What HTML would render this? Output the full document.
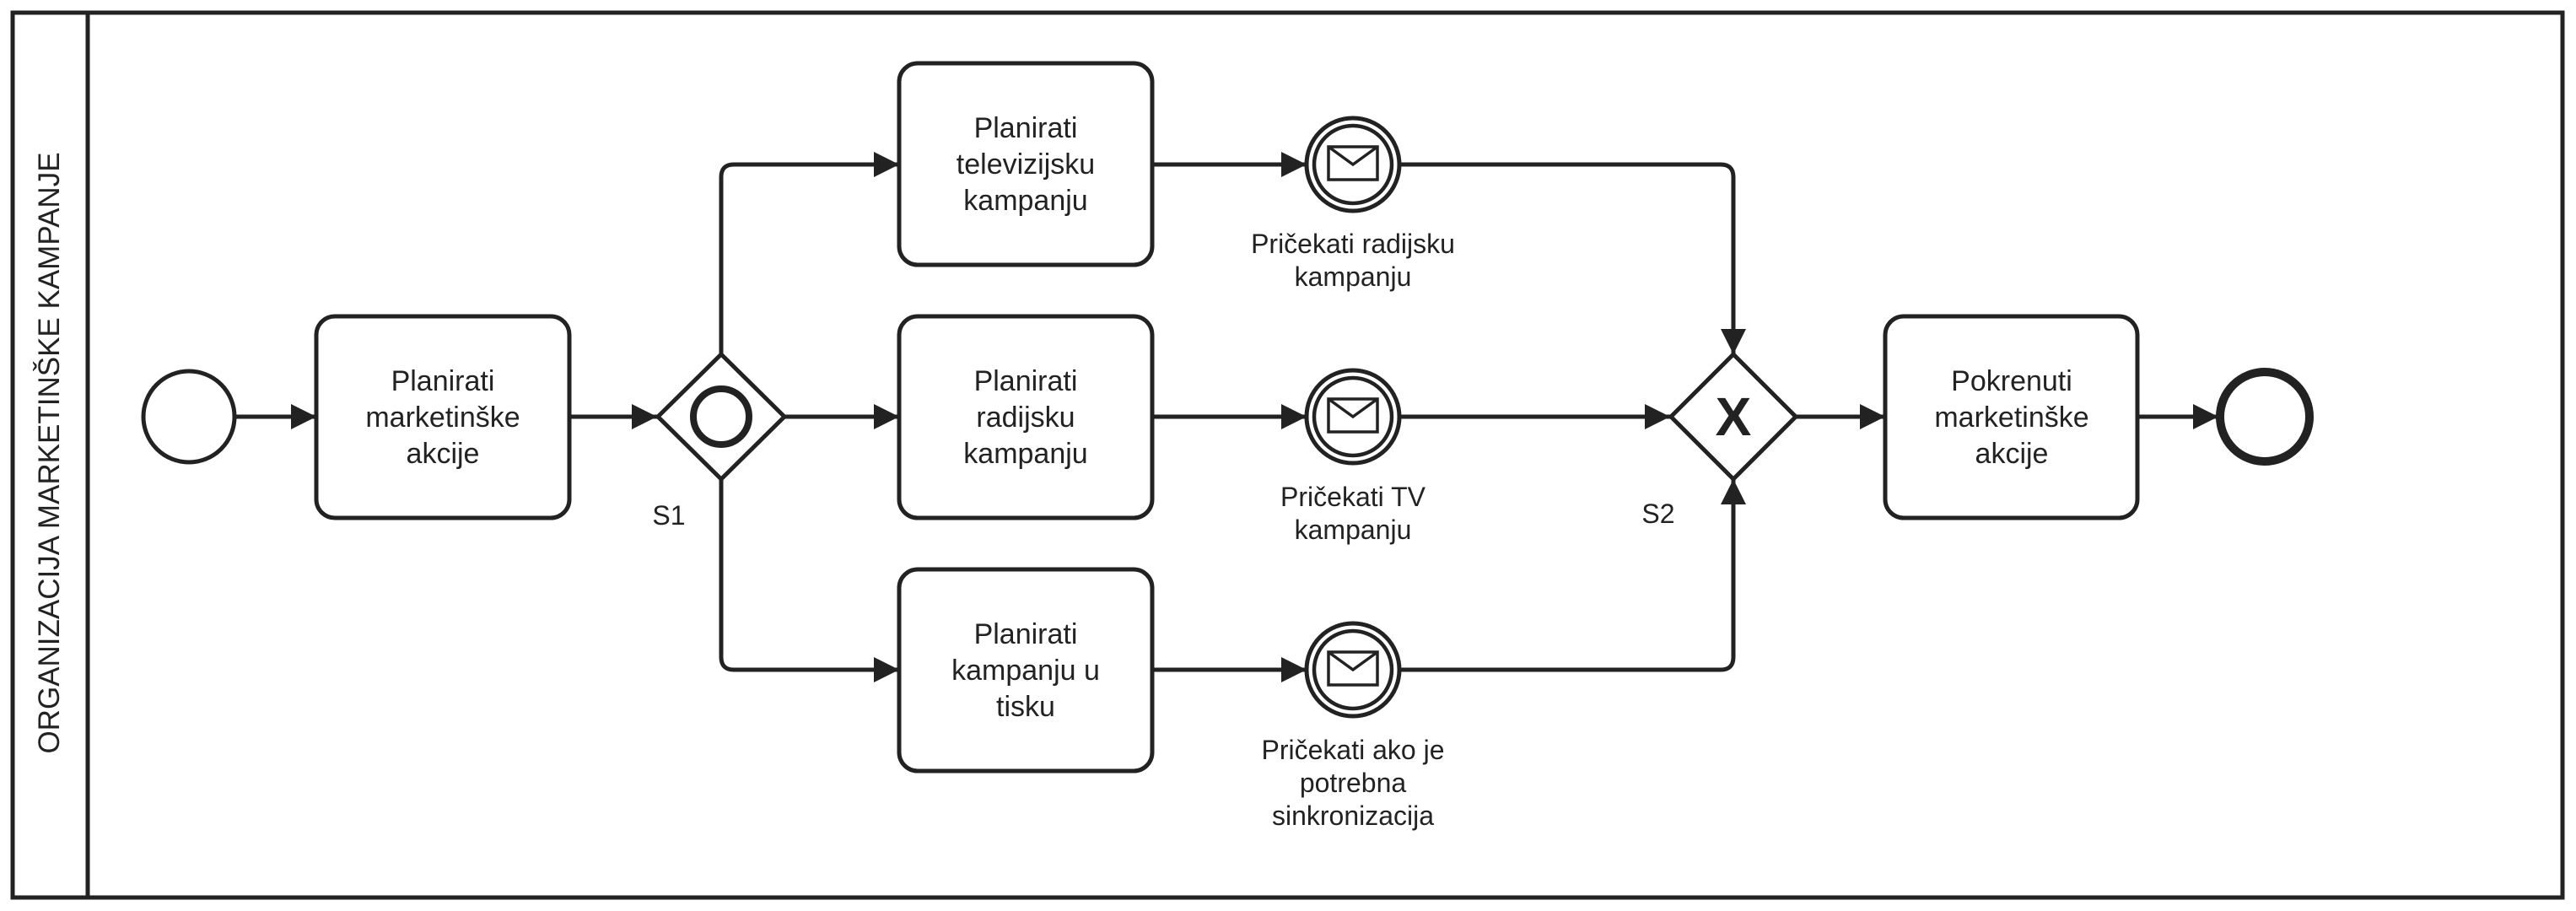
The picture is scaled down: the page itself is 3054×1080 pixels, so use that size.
<!DOCTYPE html>
<html><head><meta charset="utf-8"><style>
html,body{margin:0;padding:0;background:#fff;width:3054px;height:1080px;overflow:hidden}
text{font-family:"Liberation Sans",Arial,sans-serif;fill:#222}
</style></head><body>
<svg width="3054" height="1080" viewBox="0 0 3054 1080" xmlns="http://www.w3.org/2000/svg">
<defs>
<marker id="a" markerWidth="32" markerHeight="32" refX="30" refY="15" orient="auto" markerUnits="userSpaceOnUse">
<path d="M0,0 L30,15 L0,30 Z" fill="#222"/>
</marker>
<g id="msg">
<circle r="55" fill="#fff" stroke="#222" stroke-width="5"/>
<circle r="46" fill="none" stroke="#222" stroke-width="4.5"/>
<rect x="-29" y="-21" width="58" height="39" fill="#fff" stroke="#222" stroke-width="3.5"/>
<path d="M-29,-21 L0,0 L29,-21" fill="none" stroke="#222" stroke-width="3.5"/>
</g>
</defs>
<g fill="none" stroke="#222" stroke-width="5">
<rect x="15" y="15" width="3023" height="1049"/>
<line x1="104" y1="15" x2="104" y2="1064"/>
<line x1="279" y1="494" x2="375" y2="494" marker-end="url(#a)"/>
<line x1="675" y1="494" x2="779" y2="494" marker-end="url(#a)"/>
<line x1="930" y1="494" x2="1066" y2="494" marker-end="url(#a)"/>
<path d="M855,420 V210 Q855,195 870,195 H1066" marker-end="url(#a)"/>
<path d="M855,568 V779 Q855,794 870,794 H1066" marker-end="url(#a)"/>
<line x1="1366" y1="195" x2="1549" y2="195" marker-end="url(#a)"/>
<line x1="1366" y1="494" x2="1549" y2="494" marker-end="url(#a)"/>
<line x1="1366" y1="794" x2="1549" y2="794" marker-end="url(#a)"/>
<path d="M1659,195 H2040 Q2055,195 2055,210 V420" marker-end="url(#a)"/>
<line x1="1659" y1="494" x2="1980" y2="494" marker-end="url(#a)"/>
<path d="M1659,794 H2040 Q2055,794 2055,779 V568" marker-end="url(#a)"/>
<line x1="2129" y1="494" x2="2235" y2="494" marker-end="url(#a)"/>
<line x1="2534" y1="494" x2="2630" y2="494" marker-end="url(#a)"/>
</g>
<circle cx="224" cy="494" r="54" fill="#fff" stroke="#222" stroke-width="5"/>
<g fill="#fff" stroke="#222" stroke-width="5">
<rect x="375" y="375" width="300" height="239" rx="22"/>
<rect x="1066" y="75" width="300" height="239" rx="22"/>
<rect x="1066" y="375" width="300" height="239" rx="22"/>
<rect x="1066" y="675" width="300" height="239" rx="22"/>
<rect x="2235" y="375" width="299" height="239" rx="22"/>
<path d="M855,420 L930,494 L855,568 L780,494 Z"/>
<path d="M2055,420 L2129,494 L2055,568 L1981,494 Z"/>
</g>
<circle cx="855" cy="494" r="33" fill="none" stroke="#222" stroke-width="8"/>
<text x="2055" y="516" font-size="64" font-weight="bold" text-anchor="middle" style="fill:#222">X</text>
<circle cx="2685" cy="494" r="53" fill="#fff" stroke="#222" stroke-width="10"/>
<use href="#msg" x="1604" y="195"/>
<use href="#msg" x="1604" y="494"/>
<use href="#msg" x="1604" y="794"/>
<g font-size="34" text-anchor="middle">
<text x="525" y="463">Planirati</text><text x="525" y="506">marketinške</text><text x="525" y="549">akcije</text>
<text x="1216" y="163">Planirati</text><text x="1216" y="206">televizijsku</text><text x="1216" y="249">kampanju</text>
<text x="1216" y="463">Planirati</text><text x="1216" y="506">radijsku</text><text x="1216" y="549">kampanju</text>
<text x="1216" y="763">Planirati</text><text x="1216" y="806">kampanju u</text><text x="1216" y="849">tisku</text>
<text x="2385" y="463">Pokrenuti</text><text x="2385" y="506">marketinške</text><text x="2385" y="549">akcije</text>
</g>
<g font-size="32" text-anchor="middle">
<text x="1604" y="300">Pričekati radijsku</text><text x="1604" y="339">kampanju</text>
<text x="1604" y="600">Pričekati TV</text><text x="1604" y="639">kampanju</text>
<text x="1604" y="900">Pričekati ako je</text><text x="1604" y="939">potrebna</text><text x="1604" y="978">sinkronizacija</text>
<text x="793" y="622">S1</text>
<text x="1966" y="620">S2</text>
</g>
<text transform="translate(70,537) rotate(-90)" font-size="35" text-anchor="middle">ORGANIZACIJA MARKETINŠKE KAMPANJE</text>
</svg>
</body></html>
